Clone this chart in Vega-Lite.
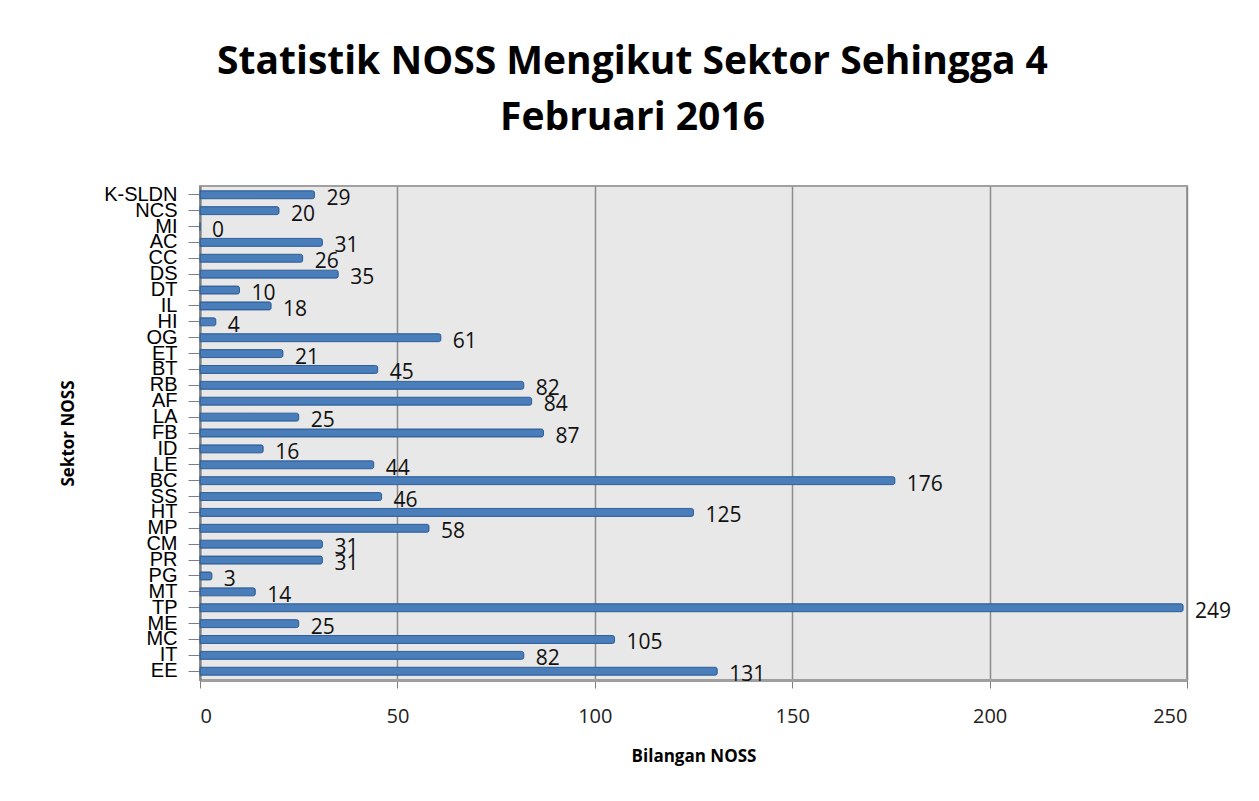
{
  "$schema": "https://vega.github.io/schema/vega-lite/v6.json",
  "autosize": "none",
  "width": 987,
  "height": 494,
  "padding": {"left": 200, "top": 186, "right": 72, "bottom": 121},
  "background": "white",
  "title": {
    "text": ["Statistik NOSS Mengikut Sektor Sehingga 4", "Februari 2016"],
    "font": "Open Sans",
    "fontSize": 39,
    "fontWeight": "bold",
    "color": "#000000",
    "lineHeight": 56,
    "anchor": "middle",
    "dx": -61,
    "offset": 46
  },
  "data": {
    "values": [
      {"sektor": "K-SLDN", "n": 29},
      {"sektor": "NCS", "n": 20},
      {"sektor": "MI", "n": 0},
      {"sektor": "AC", "n": 31},
      {"sektor": "CC", "n": 26},
      {"sektor": "DS", "n": 35},
      {"sektor": "DT", "n": 10},
      {"sektor": "IL", "n": 18},
      {"sektor": "HI", "n": 4},
      {"sektor": "OG", "n": 61},
      {"sektor": "ET", "n": 21},
      {"sektor": "BT", "n": 45},
      {"sektor": "RB", "n": 82},
      {"sektor": "AF", "n": 84},
      {"sektor": "LA", "n": 25},
      {"sektor": "FB", "n": 87},
      {"sektor": "ID", "n": 16},
      {"sektor": "LE", "n": 44},
      {"sektor": "BC", "n": 176},
      {"sektor": "SS", "n": 46},
      {"sektor": "HT", "n": 125},
      {"sektor": "MP", "n": 58},
      {"sektor": "CM", "n": 31},
      {"sektor": "PR", "n": 31},
      {"sektor": "PG", "n": 3},
      {"sektor": "MT", "n": 14},
      {"sektor": "TP", "n": 249},
      {"sektor": "ME", "n": 25},
      {"sektor": "MC", "n": 105},
      {"sektor": "IT", "n": 82},
      {"sektor": "EE", "n": 131}
    ]
  },
  "encoding": {
    "y": {
      "field": "sektor",
      "type": "nominal",
      "sort": null,
      "scale": {"paddingInner": 0.5, "paddingOuter": 0.3},
      "axis": {
        "title": "Sektor NOSS",
        "titleFont": "Open Sans",
        "titleFontSize": 17,
        "titleFontWeight": "bold",
        "titleColor": "#000000",
        "titlePadding": 26,
        "labelFont": "Liberation Sans",
        "labelFontSize": 20,
        "labelColor": "#000000",
        "labelOverlap": false,
        "labelPadding": 11,
        "tickColor": "#7f7f7f",
        "tickSize": 12,
        "domainColor": "#7f7f7f",
        "domainWidth": 2,
        "grid": false
      }
    },
    "x": {
      "field": "n",
      "type": "quantitative",
      "scale": {"domain": [0, 250], "nice": false},
      "axis": {
        "title": "Bilangan NOSS",
        "titleFont": "Open Sans",
        "titleFontSize": 17,
        "titleFontWeight": "bold",
        "titleColor": "#000000",
        "titlePadding": 22,
        "values": [0, 50, 100, 150, 200, 250],
        "labelFont": "Open Sans",
        "labelFontSize": 20,
        "labelColor": "#222222",
        "labelPadding": 18,
        "tickColor": "#7f7f7f",
        "tickSize": 8,
        "domainColor": "#9f9f9f",
        "domainWidth": 3,
        "gridColor": "#8c8c8c",
        "gridWidth": 1.5
      }
    }
  },
  "layer": [
    {
      "mark": {"type": "bar", "color": "#4a7ebb", "stroke": "#2f5f98", "strokeWidth": 1, "cornerRadiusEnd": 2}
    },
    {
      "mark": {"type": "text", "align": "left", "baseline": "middle", "dx": 12, "dy": 4, "font": "Open Sans", "fontSize": 21, "color": "#111111"},
      "encoding": {"text": {"field": "n", "type": "quantitative"}}
    }
  ],
  "config": {
    "view": {"fill": "#e8e8e8", "stroke": "#a0a0a0", "strokeWidth": 2}
  }
}
